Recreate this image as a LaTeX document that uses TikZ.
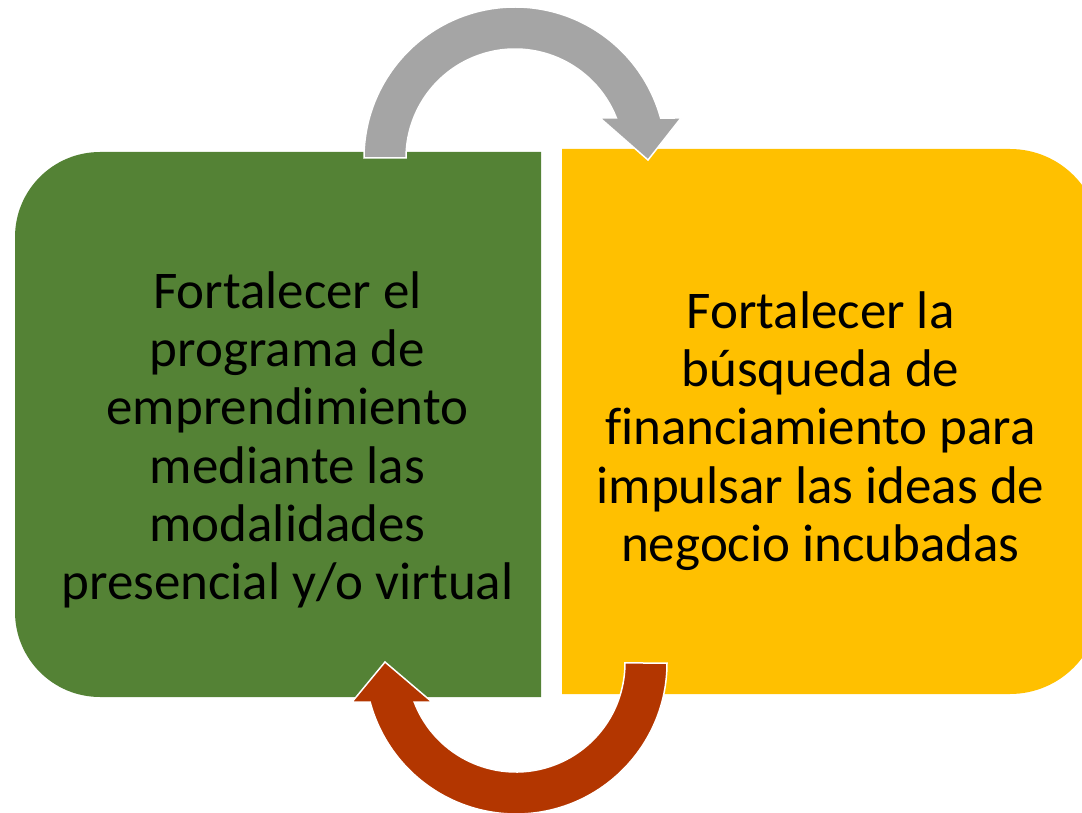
\documentclass[tikz,border=0pt]{standalone}
\usepackage{fontspec}
\setmainfont{Carlito}[Ligatures=NoCommon]
\definecolor{boxgreen}{HTML}{548235}
\definecolor{boxyellow}{HTML}{FFC000}
\definecolor{arrowgray}{HTML}{A5A5A5}
\definecolor{arrowred}{HTML}{B33600}
\tikzset{
  boxtext/.style={align=center, inner sep=0pt, text=black, font=\fontsize{53}{58.3}\selectfont},
  arrowshape/.style={draw=white, line width=1.5pt, line join=miter},
}
\begin{document}
\begin{tikzpicture}[x=1pt, y=-1pt]
\useasboundingbox (0,0) rectangle (1082,813);
\clip (0,0) rectangle (1082,813);
% left box (green)
\fill[boxgreen] (541,152) -- (100,152) arc[start angle=270, end angle=180, radius=85]
  -- (15,612) arc[start angle=180, end angle=90, radius=85] -- (541,697) -- cycle;
% right box (yellow)
\fill[boxyellow] (562,149) -- (1010,149) arc[start angle=270, end angle=360, radius=90]
  -- (1100,604) arc[start angle=0, end angle=90, radius=90] -- (562,694) -- cycle;
% texts
\node[boxtext] (left) at (287.5,440) {Fortalecer el\\programa de\\emprendimiento\\mediante las\\modalidades\\presencial y/o virtual};
\node[boxtext] (right) at (820.5,431) {Fortalecer la\\búsqueda de\\financiamiento para\\impulsar las ideas de\\negocio incubadas};
% gray arrow (top)
\filldraw[arrowshape, fill=arrowgray] (364,158) arc[start angle=180, end angle=344.64, radius=151]
  -- (681,118) -- (648,160) -- (600,118) -- (616.4,118)
  arc[start angle=338.47, end angle=180, radius=109] -- cycle;
% red arrow (bottom)
\filldraw[arrowshape, fill=arrowred] (667,663) arc[start angle=0, end angle=165.03, radius=151]
  -- (352,702) -- (385,662) -- (432,702) -- (414.2,702)
  arc[start angle=159.03, end angle=0, radius=109] -- cycle;
\end{tikzpicture}
\end{document}
